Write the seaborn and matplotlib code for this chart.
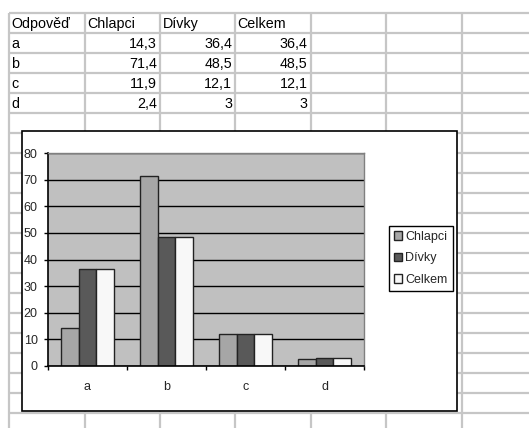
import matplotlib
matplotlib.use("Agg")
import matplotlib.pyplot as plt
from matplotlib.patches import Rectangle, Patch
import seaborn as sns
import pandas as pd

# ---- data ----
categories = ["a", "b", "c", "d"]
series_names = ["Chlapci", "Dívky", "Celkem"]
chlapci = [14.3, 71.4, 11.9, 2.4]
divky = [36.4, 48.5, 12.1, 3]
celkem = [36.4, 48.5, 12.1, 3]
header_first = "Odpověď"
y_ticks = [0, 10, 20, 30, 40, 50, 60, 70, 80]

colors = {"Chlapci": "#A6A6A6", "Dívky": "#595959", "Celkem": "#F8F8F8"}

sns.set_theme(style="white")
plt.rcParams["font.family"] = ["Liberation Sans", "DejaVu Sans"]

W, H = 529, 428
fig = plt.figure(figsize=(W / 100, H / 100), dpi=100)

# background sheet axes in pixel coordinates
bg = fig.add_axes([0, 0, 1, 1])
bg.set_xlim(0, W)
bg.set_ylim(H, 0)
bg.axis("off")

grid_c = "#C6C6C6"
col_x = [9, 84.5, 160, 235, 310.5, 386, 461.5]
row_y = [13 + 20 * i for i in range(21)]
for x in col_x:
    bg.plot([x, x], [13, H], color=grid_c, lw=1.6, zorder=1, solid_capstyle="butt")
for y in row_y:
    if y <= H:
        bg.plot([9, W], [y, y], color=grid_c, lw=1.6, zorder=1, solid_capstyle="butt")

# table text
fs_tab = 10.3
headers = [header_first] + series_names
for j, h in enumerate(headers):
    bg.text(col_x[j] + 2.5, 23.5, h, ha="left", va="center", fontsize=fs_tab, color="black", zorder=2)

def fmt(v):
    return f"{v:g}".replace(".", ",")

cols = [chlapci, divky, celkem]
for i, cat in enumerate(categories):
    yc = 43.5 + 20 * i
    bg.text(col_x[0] + 2.5, yc, cat, ha="left", va="center", fontsize=fs_tab, color="black", zorder=2)
    for j, vals in enumerate(cols):
        bg.text(col_x[j + 2] - 3, yc, fmt(vals[i]), ha="right", va="center",
                fontsize=fs_tab, color="black", zorder=2)

# chart frame
bg.add_patch(Rectangle((22, 131), 434.5, 280, facecolor="white", edgecolor="black",
                       lw=1.2, zorder=5))

# chart axes
L, R, T, B = 48, 364, 153.3, 365.7
ax = fig.add_axes([L / W, 1 - B / H, (R - L) / W, (B - T) / H])
ax.set_zorder(10)

df = pd.DataFrame({
    "cat": categories * 3,
    "series": sum([[s] * len(categories) for s in series_names], []),
    "value": chlapci + divky + celkem,
})
sns.barplot(data=df, x="cat", y="value", hue="series", hue_order=series_names,
            order=categories, palette=colors, width=0.667, gap=0,
            edgecolor="#222222", linewidth=1.0, saturation=1, ax=ax, legend=False)

ax.set_facecolor("#C0C0C0")
ax.set_ylim(0, 80)
ax.set_xlim(-0.5, 3.5)
ax.set_yticks(y_ticks)
ax.set_axisbelow(True)
ax.yaxis.grid(True, color="black", lw=1.0)
ax.xaxis.grid(False)
ax.set_xlabel("")
ax.set_ylabel("")
for s in ["left", "bottom"]:
    ax.spines[s].set_color("black")
    ax.spines[s].set_linewidth(1.2)
for s in ["top", "right"]:
    ax.spines[s].set_color("#808080")
    ax.spines[s].set_linewidth(1.0)
ax.tick_params(axis="y", which="major", direction="out", length=3, width=1,
               color="black", labelsize=9, pad=4.5, left=True)
ax.tick_params(axis="x", which="major", length=0, labelsize=9, pad=11)
ax.set_xticks([-0.5, 0.5, 1.5, 2.5, 3.5], minor=True)
ax.tick_params(axis="x", which="minor", direction="out", length=3, width=1,
               color="black", bottom=True)

handles = [Patch(facecolor=colors[s], edgecolor="#222222", lw=1.0, label=s) for s in series_names]
leg = fig.legend(handles=handles, loc="upper left",
                 bbox_to_anchor=(389 / W, 1 - 226 / H), bbox_transform=fig.transFigure,
                 fontsize=9, frameon=True, fancybox=False, framealpha=1,
                 handlelength=0.65, handleheight=0.65, handletextpad=0.25,
                 labelspacing=0.75, borderpad=0.4, borderaxespad=0)
leg.get_frame().set_edgecolor("black")
leg.get_frame().set_linewidth(1.0)
leg.set_zorder(20)

fig.savefig("out.png", dpi=100)
